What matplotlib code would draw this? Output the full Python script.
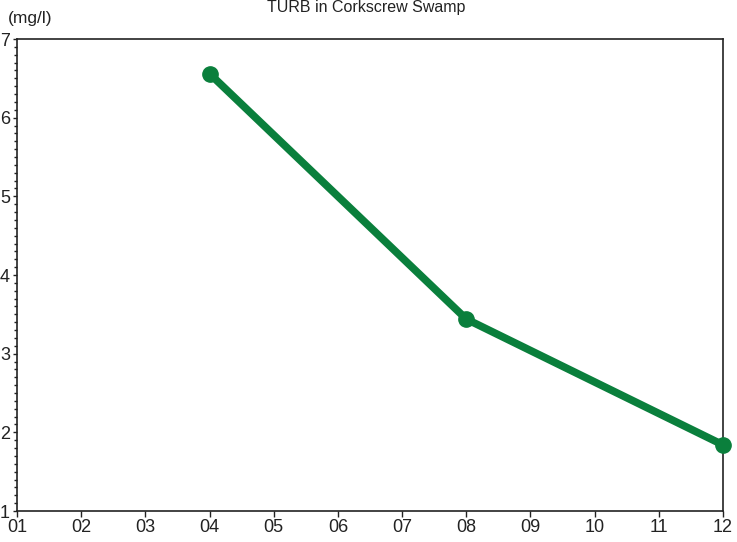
import matplotlib
matplotlib.use("Agg")
import matplotlib.pyplot as plt
from matplotlib.ticker import MultipleLocator

# data
months = [4, 8, 12]
turb = [6.56, 3.44, 1.84]
month_ticks = list(range(1, 13))
month_labels = ["%02d" % m for m in month_ticks]

plt.rcParams["font.family"] = ["Liberation Sans", "DejaVu Sans"]

fig = plt.figure(figsize=(7.37, 5.42), dpi=100)
ax = fig.add_axes([17 / 737, 1 - 511 / 542, (723 - 17) / 737, (511 - 39) / 542])

ax.plot(months, turb, color="#0a7f3c", linewidth=5.5, marker="o",
        markersize=11, solid_capstyle="round", clip_on=False, zorder=3)

ax.set_xlim(1, 12)
ax.set_ylim(1, 7)
ax.set_xticks(month_ticks)
ax.set_xticklabels(month_labels)
ax.set_yticks(range(1, 8))
ax.yaxis.set_minor_locator(MultipleLocator(0.1))

for s in ax.spines.values():
    s.set_linewidth(1.2)
    s.set_color("#222222")

ax.tick_params(axis="x", direction="out", length=4, width=1, pad=2,
               labelsize=13, colors="#222222")
ax.tick_params(axis="y", which="major", direction="out", length=3, width=1,
               pad=2, labelsize=13, colors="#222222")
ax.tick_params(axis="y", which="minor", direction="out", length=2, width=1,
               colors="#222222")

fig.text(0.497, 1 - 12 / 542, "TURB in Corkscrew Swamp", ha="center",
         va="baseline", fontsize=11.5, color="#222222")
fig.text(8 / 737, 1 - 23 / 542, "(mg/l)", ha="left", va="baseline",
         fontsize=12.5, color="#222222")

fig.savefig("out.png", dpi=100)
